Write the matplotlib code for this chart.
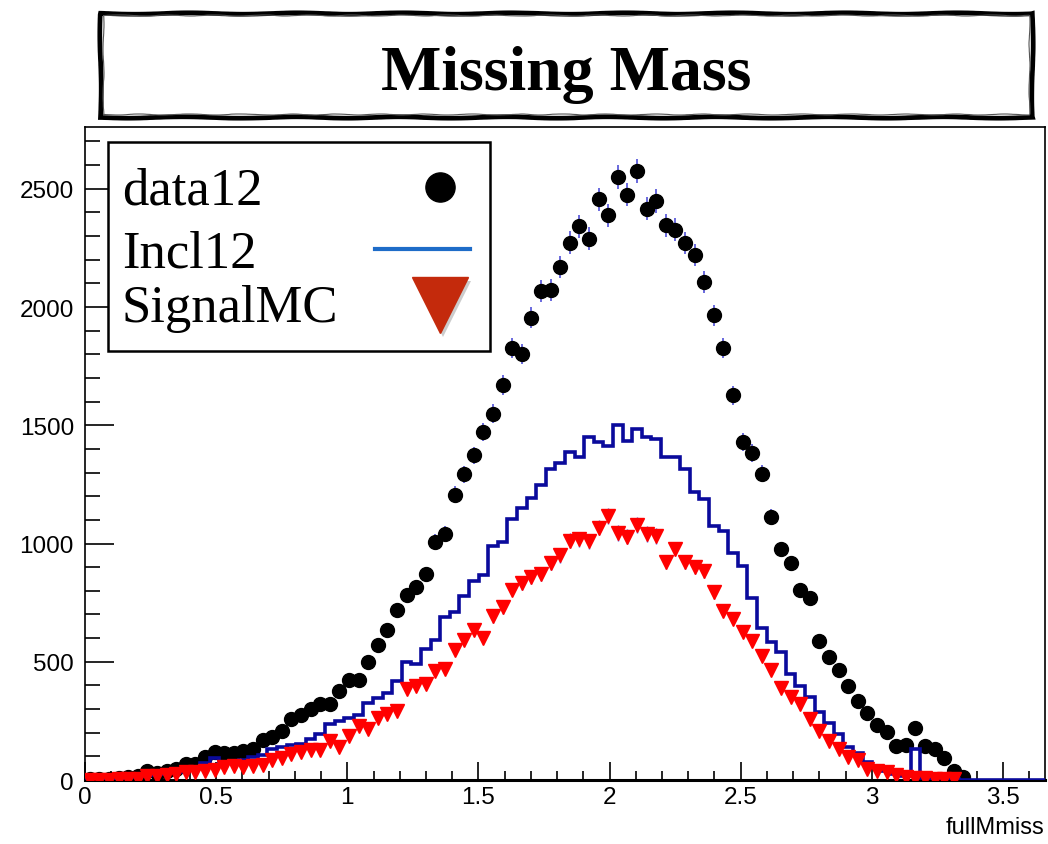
"""
Missing Mass - recreated ROOT-style histogram comparison
"""
import numpy as np
import matplotlib
matplotlib.use('Agg')
import matplotlib.pyplot as plt
from matplotlib.patches import Rectangle
from matplotlib.lines import Line2D
from matplotlib.ticker import MultipleLocator, FormatStrFormatter
import matplotlib.patheffects as pe

# Binning: 100 bins on [0, 3.66]
x_min, x_max, n_bins = 0.0, 3.66, 100

# data12 (black points), bins 0..91, rest empty
data12 = [3, 4, 6, 8, 12, 18, 38, 30, 40, 48,
          68, 68, 98, 120, 115, 115, 124, 132, 168, 180,
          206, 256, 277, 302, 321, 323, 376, 424, 424, 500,
          572, 636, 720, 784, 818, 871, 1007, 1040, 1207, 1293,
          1373, 1471, 1549, 1670, 1828, 1800, 1954, 2067, 2071, 2169,
          2272, 2341, 2289, 2455, 2387, 2550, 2475, 2577, 2415, 2448,
          2345, 2327, 2270, 2221, 2105, 1966, 1826, 1626, 1428, 1383,
          1294, 1114, 977, 917, 805, 769, 587, 519, 467, 396,
          336, 283, 233, 202, 145, 148, 220, 145, 131, 92,
          39, 11]

# Incl12 (blue histogram)
incl12 = [2, 4, 6, 9, 12, 16, 20, 25, 30, 36,
          44, 55, 74, 94, 77, 80, 84, 96, 106, 132,
          140, 148, 152, 172, 193, 235, 248, 264, 275, 324,
          348, 368, 420, 498, 491, 554, 593, 688, 712, 780,
          843, 869, 991, 1008, 1104, 1149, 1192, 1248, 1316, 1342,
          1385, 1365, 1452, 1431, 1413, 1500, 1435, 1485, 1450, 1442,
          1365, 1365, 1316, 1217, 1189, 1074, 1051, 961, 903, 769,
          642, 585, 543, 448, 399, 350, 286, 241, 195, 138,
          116, 75, 61, 39, 25, 15, 130, 8, 6, 4,
          3, 2]

# SignalMC (red triangles)
signal_mc = [2, 2, 2, 3, 3, 5, 16, 16, 21, 25,
             32, 35, 39, 44, 54, 58, 56, 58, 65, 86,
             92, 110, 120, 128, 128, 166, 138, 187, 230, 216,
             261, 279, 290, 385, 397, 407, 461, 470, 551, 590,
             633, 599, 692, 731, 805, 834, 860, 871, 917, 950,
             1012, 1017, 1010, 1067, 1117, 1045, 1028, 1079, 1040, 1032,
             921, 977, 921, 900, 883, 794, 716, 681, 625, 589,
             526, 467, 388, 350, 321, 258, 209, 166, 131, 96,
             86, 47, 39, 33, 21, 11, 7, 7, 5, 5,
             5]

legend_labels = ['data12', 'Incl12', 'SignalMC']
title = 'Missing Mass'
x_label = 'fullMmiss'

# Histogram arrays
edges = np.linspace(x_min, x_max, n_bins + 1)
centers = 0.5 * (edges[:-1] + edges[1:])


def full(vals):
    arr = np.zeros(n_bins)
    arr[:len(vals)] = vals
    return arr


h_data = full(data12)
h_incl = full(incl12)
h_sig = full(signal_mc)

fig = plt.figure(figsize=(10.48, 8.45), dpi=100)
ax = fig.add_axes([0.0811, 0.0757, 0.916, 0.7728])

sans = 'Liberation Sans'
serif = 'Liberation Serif'

# Data points with sqrt(N) errors
m = h_data > 0
ax.errorbar(centers[m], h_data[m], yerr=np.sqrt(h_data[m]), fmt='o',
            color='black', markersize=10, ecolor='#5050d8', elinewidth=1.2,
            capsize=0, zorder=2)

# Inclusive MC histogram
ax.stairs(h_incl, edges, color='#0a0a9c', linewidth=2.6, zorder=3)

# Signal MC triangles
m = h_sig > 0
ax.errorbar(centers[m], h_sig[m], yerr=np.sqrt(h_sig[m]), fmt='v',
            color='#ff0000', markersize=10.5, ecolor='#5050d8',
            elinewidth=1.0, capsize=0, zorder=4)

# Axes styling, ROOT-like
ax.set_xlim(x_min, x_max)
ax.set_ylim(0, 2761)
ax.xaxis.set_major_locator(MultipleLocator(0.5))
ax.xaxis.set_minor_locator(MultipleLocator(0.1))
ax.yaxis.set_major_locator(MultipleLocator(500))
ax.yaxis.set_minor_locator(MultipleLocator(100))
ax.xaxis.set_major_formatter(FormatStrFormatter('%g'))
ax.tick_params(axis='x', which='major', direction='in', length=13, width=1.2,
               labelsize=17.5, pad=4)
ax.tick_params(axis='x', which='minor', direction='in', length=6.5, width=1.2)
ax.tick_params(axis='y', which='major', direction='in', length=21, width=1.2,
               labelsize=17.5, pad=8)
ax.tick_params(axis='y', which='minor', direction='in', length=10.5, width=1.2)
for lab in ax.get_xticklabels() + ax.get_yticklabels():
    lab.set_fontfamily(sans)
for s in ['left', 'top', 'right']:
    ax.spines[s].set_linewidth(1.2)
ax.spines['bottom'].set_linewidth(2.2)

fig.text(0.997, 0.02, x_label, ha='right', va='center', fontsize=17,
         family=sans)

# Title box with rough, brushed border
box = Rectangle((0.0954, 0.8604), 0.889, 0.123, transform=fig.transFigure,
                facecolor='white', edgecolor='black', linewidth=3.4)
box.set_sketch_params(0.7, 120, 2)
fig.patches.append(box)
inner = Rectangle((0.0985, 0.8640), 0.883, 0.1165, transform=fig.transFigure,
                  facecolor='none', edgecolor='#555555', linewidth=0.8)
inner.set_sketch_params(0.5, 60, 3)
fig.patches.append(inner)
fig.text(0.540, 0.8935, title, ha='center', va='baseline', fontsize=46,
         fontweight='bold', family=serif)

# Legend box drawn by hand (markers sit at the right)
leg = Rectangle((0.103, 0.5834), 0.3645, 0.2473, transform=fig.transFigure,
                facecolor='white', edgecolor='black', linewidth=1.8, zorder=5)
fig.patches.append(leg)
for lab, yb in zip(legend_labels, [0.7574, 0.684, 0.619]):
    fig.text(0.1164, yb, lab, ha='left', va='baseline', fontsize=38,
             family=serif, zorder=6)

fig.lines.append(Line2D([0.42], [0.7775], marker='o', markersize=21,
                        color='black', linestyle='none',
                        transform=fig.transFigure, zorder=6))
fig.lines.append(Line2D([0.358, 0.4485], [0.7041, 0.7041], color='#1e6cc8',
                        linewidth=3, transform=fig.transFigure, zorder=6))
tri = Line2D([0.42], [0.6380], marker='v', markersize=40, color='#c42a0c',
             linestyle='none', transform=fig.transFigure, zorder=6)
tri.set_path_effects([pe.withSimplePatchShadow(offset=(2, -3),
                                               shadow_rgbFace='gray',
                                               alpha=0.4)])
fig.lines.append(tri)

fig.savefig('out.png', dpi=100)
